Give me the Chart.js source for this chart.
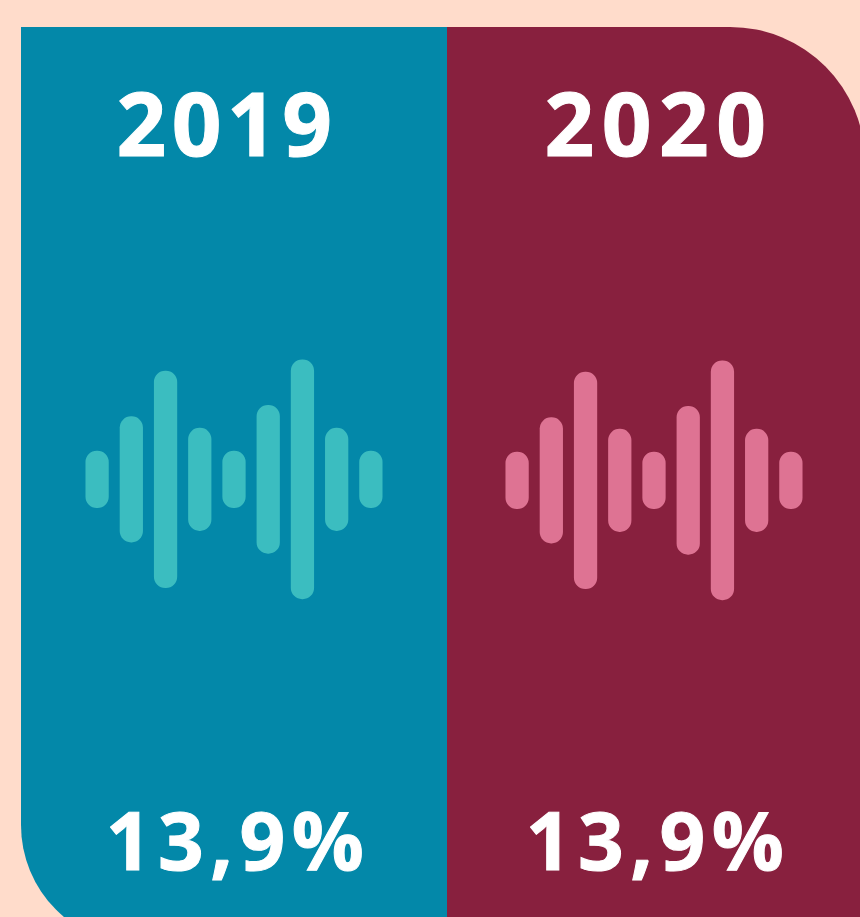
<!DOCTYPE html>
<html>
<head>
<meta charset="utf-8">
<title>2019 / 2020</title>
<script src="https://cdn.jsdelivr.net/npm/chart.js@4/dist/chart.umd.js"></script>
<style>
  html, body { margin: 0; padding: 0; background: #ffdccb; }
  body { position: relative; width: 860px; height: 917px; overflow: hidden; font-family: "Open Sans", sans-serif; font-weight: 700; color: #fff; }
  .panel { position: absolute; top: 27px; height: 918px; }
  #p2019 { left: 21px; width: 426px; background: #0388a9; border-bottom-left-radius: 120px; }
  #p2020 { left: 447px; width: 418px; background: #88203e; border-top-right-radius: 135px; }
  .year, .pct { position: absolute; white-space: nowrap; text-align: center; width: 400px; -webkit-text-stroke: 1px #fff; }
  .year { font-size: 87px; line-height: 100px; top: 72px; }
  .pct { font-size: 80px; letter-spacing: 6.5px; line-height: 100px; top: 789px; }
  #y2019 { left: 27px; letter-spacing: 5.5px; }
  #y2020 { left: 459px; letter-spacing: 7.5px; }
  #v2019 { left: 38px; }
  #v2020 { left: 458px; }
  canvas { position: absolute; }
  #c2019 { left: 80px; top: 349px; }
  #c2020 { left: 500px; top: 350px; }
</style>
</head>
<body>
<div class="panel" id="p2019"></div>
<div class="panel" id="p2020"></div>
<div class="year" id="y2019"></div>
<div class="year" id="y2020"></div>
<div class="pct" id="v2019"></div>
<div class="pct" id="v2020"></div>
<canvas id="c2019" width="308" height="261"></canvas>
<canvas id="c2020" width="308" height="261"></canvas>
<script>
// le due "onde" sono barre flottanti simmetriche attorno allo zero
const years = ['2019', '2020'];
const percent = ['13,9%', '13,9%'];
const steps = ['1', '2', '3', '4', '5', '6', '7', '8', '9'];
const wave2019 = [28.3, 62.7, 108.3, 51.2, 28.3, 74, 119.5, 51.2, 28.3];
const wave2020 = [28.3, 62.7, 108.3, 51.2, 28.3, 74, 119.5, 51.2, 28.3];

const drawWave = (id, values, color) => new Chart(document.getElementById(id), {
  type: 'bar',
  data: {
    labels: steps,
    datasets: [{
      data: values.map(v => [-v, v]),
      backgroundColor: color,
      borderRadius: 11.5,
      borderSkipped: false,
      barThickness: 22.6
    }]
  },
  options: {
    responsive: false,
    animation: false,
    layout: { padding: 0 },
    plugins: { legend: { display: false }, tooltip: { enabled: false } },
    scales: {
      x: { display: false },
      y: { display: false, min: -130.65, max: 130.35 }
    }
  }
});

years.forEach((y, i) => {
  document.getElementById('y' + y).textContent = y;
  document.getElementById('v' + y).textContent = percent[i];
});
drawWave('c2019', wave2019, '#3bbdc0');
drawWave('c2020', wave2020, '#de7393');
</script>
</body>
</html>
